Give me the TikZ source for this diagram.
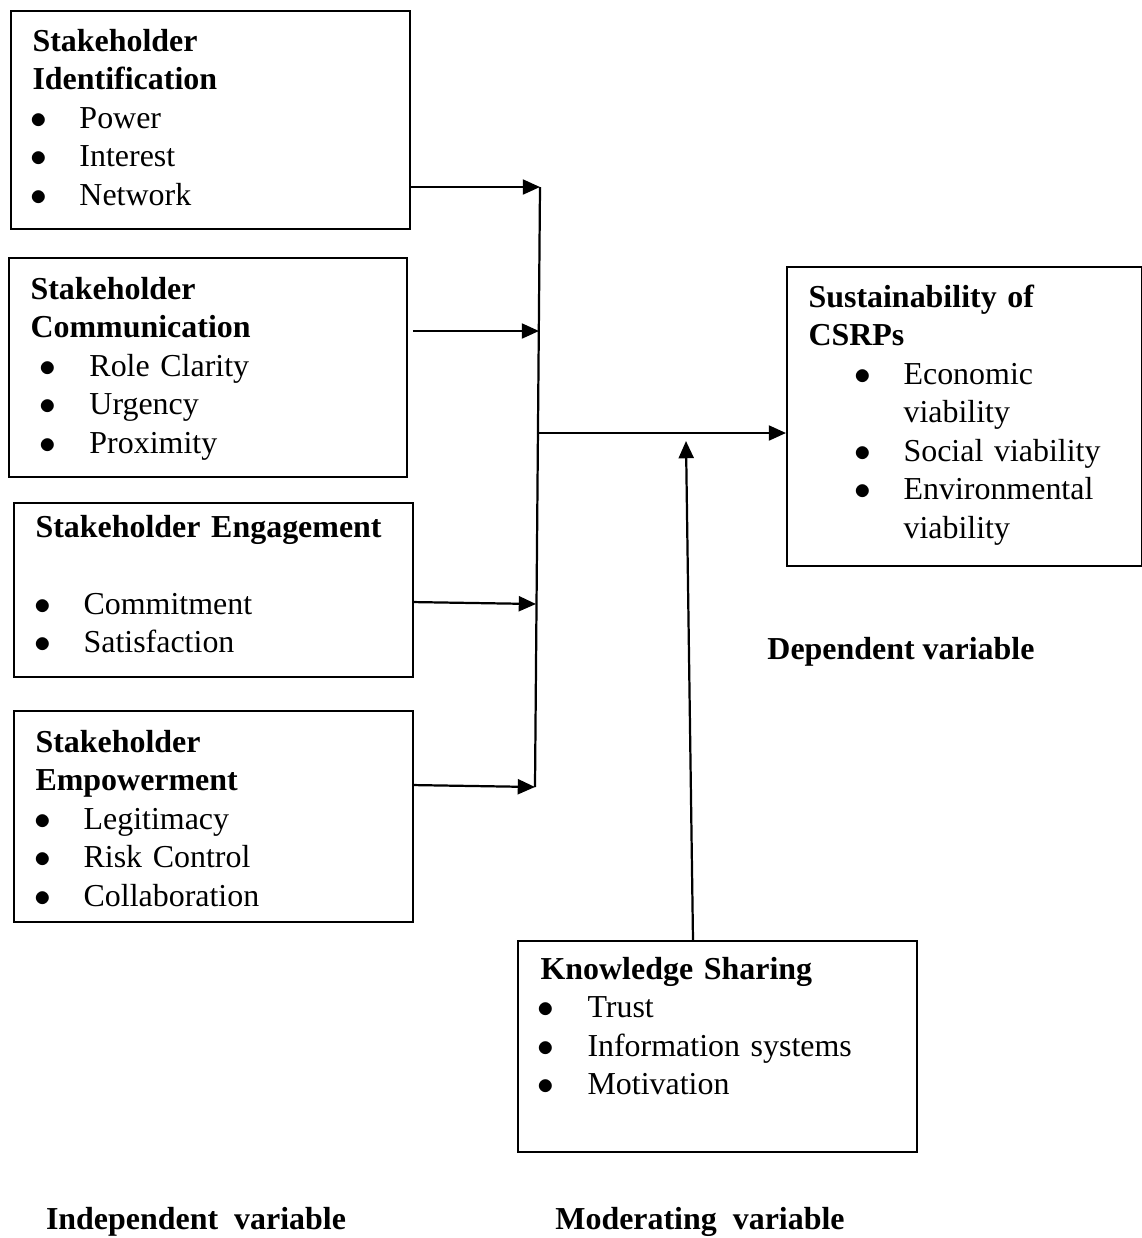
\documentclass[tikz,border=0pt]{standalone}
\usepackage{fontspec}
\setmainfont{Liberation Serif}
\usetikzlibrary{arrows.meta}
\newcommand{\bul}[3]{\hspace*{#1}\makebox[\dimexpr#2-#1\relax][l]{$\bullet$}#3}

\begin{document}
\begin{tikzpicture}[x=0.36pt, y=-0.36pt,
    varbox/.style={draw, line width=0.7pt, anchor=north west, inner sep=0pt},
    boxtext/.style={anchor=base west, align=left, inner sep=0pt, text width=#1, font=\fontsize{11.5pt}{13.86pt}\selectfont},
    flow/.style={line width=0.8pt, -{Triangle[length=6.2pt,width=5.4pt]}},
    caption/.style={font=\fontsize{11.5pt}{13.86pt}\selectfont\bfseries}]

\useasboundingbox (0,0) rectangle (1142,1238);

% Independent variables
\begin{scope}
    % Defining boxes.
    \node[varbox, minimum width=143.64pt, minimum height=78.48pt] (IdBox) at (10,10) {};
    \node[varbox, minimum width=143.28pt, minimum height=78.84pt] (ComBox) at (8,257) {};
    \node[varbox, minimum width=143.64pt, minimum height=62.64pt] (EngBox) at (13,502) {};
    \node[varbox, minimum width=143.64pt, minimum height=75.96pt] (EmpBox) at (13,710) {};
    % Box texts.
    \node[boxtext=140pt] (IdText) at (32,51) {\textbf{Stakeholder}\\\textbf{Identification}\\
        \bul{-0.7pt}{16.9pt}{Power}\\\bul{-0.7pt}{16.9pt}{Interest}\\\bul{-0.7pt}{16.9pt}{Network}};
    \node[boxtext=140pt] (ComText) at (30,299) {\textbf{Stakeholder}\\\textbf{Communication}\\
        \bul{3.2pt}{21.2pt}{Role Clarity}\\\bul{3.2pt}{21.2pt}{Urgency}\\\bul{3.2pt}{21.2pt}{Proximity}};
    \node[boxtext=140pt] (EngText) at (35,537) {\textbf{Stakeholder Engagement}\\\mbox{}\\
        \bul{-0.4pt}{17.3pt}{Commitment}\\\bul{-0.4pt}{17.3pt}{Satisfaction}};
    \node[boxtext=140pt] (EmpText) at (35,752) {\textbf{Stakeholder}\\\textbf{Empowerment}\\
        \bul{-0.4pt}{17.3pt}{Legitimacy}\\\bul{-0.4pt}{17.3pt}{Risk Control}\\\bul{-0.4pt}{17.3pt}{Collaboration}};
\end{scope}

% Dependent and moderating variables
\begin{scope}
    \node[varbox, minimum width=127.8pt, minimum height=107.64pt] (SustBox) at (786,266) {};
    \node[varbox, minimum width=143.64pt, minimum height=75.96pt] (KnowBox) at (517,940) {};
    \node[boxtext=120pt] (SustText) at (808,307) {\textbf{Sustainability of}\\\textbf{CSRPs}\\
        \bul{16.6pt}{34.2pt}{Economic}\\\hspace*{34.2pt}viability\\\bul{16.6pt}{34.2pt}{Social viability}\\
        \bul{16.6pt}{34.2pt}{Environmental}\\\hspace*{34.2pt}viability};
    \node[boxtext=140pt] (KnowText) at (540,979) {\textbf{Knowledge Sharing}\\
        \bul{-1.1pt}{16.9pt}{Trust}\\\bul{-1.1pt}{16.9pt}{Information systems}\\\bul{-1.1pt}{16.9pt}{Motivation}};
\end{scope}

% Connectors
\coordinate (BusA) at (540,187);
\coordinate (BusB) at (539,331);
\coordinate (BusC) at (536,604);
\coordinate (BusD) at (535,787);
\coordinate (BusMid) at (538,433);
\coordinate (ModTip) at (686,441);
\coordinate (ModBase) at (693,940);
\draw[line width=0.8pt] (BusA) -- (BusD);
\draw[flow] (IdBox.east |- BusA) -- (BusA);
\draw[flow] ([xshift=1.8pt]ComBox.east |- BusB) -- (BusB);
\draw[flow] ([yshift=0.7pt]EngBox.east |- BusC) -- (BusC);
\draw[flow] ([yshift=0.7pt]EmpBox.east |- BusD) -- (BusD);
\draw[flow] (BusMid) -- (BusMid -| SustBox.west);
\draw[flow] (ModBase |- KnowBox.north) -- (ModTip);

% Captions
\node[caption] (DepLabel) at (901,652) {Dependent variable};
\node[caption] (IndLabel) at (196,1222) {Independent~ variable};
\node[caption] (ModLabel) at (700,1222) {Moderating~ variable};

\end{tikzpicture}
\end{document}
